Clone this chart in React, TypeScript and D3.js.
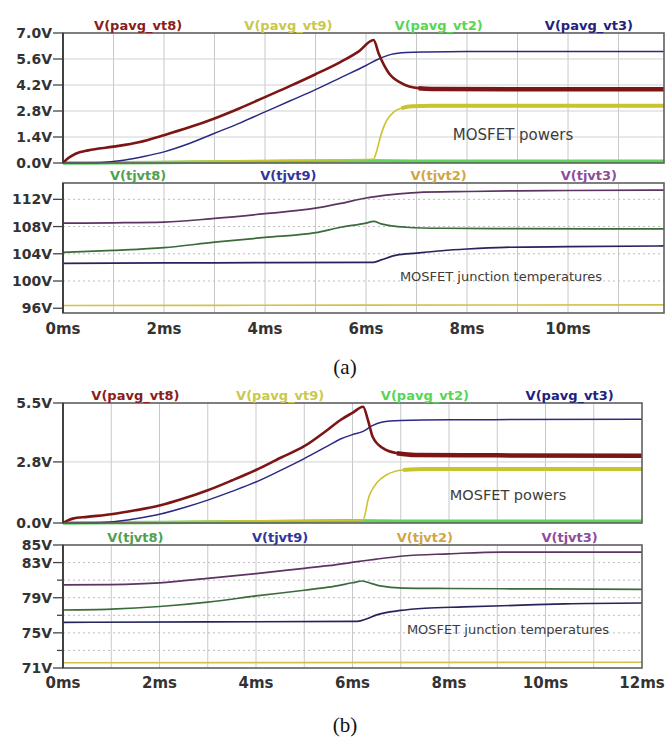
import React from 'react';
import * as d3 from 'd3';

// ---------- tick values ----------
const timeTicksA = [0, 2, 4, 6, 8, 10];
const timeTicksB = [0, 2, 4, 6, 8, 10, 12];
const powerTicksA = [0, 1.4, 2.8, 4.2, 5.6, 7.0];
const tempTicksA = [96, 100, 104, 108, 112];
const powerTicksB = [0, 2.8, 5.5];
const tempTicksB = [71, 75, 79, 83, 85];
const tempMinorTicksB = [73, 77, 81];

// ---------- panel (a) powers ----------
const aP8t = [0, 0.1, 0.25, 0.5, 1.0, 1.5, 2.0, 2.5, 3.0, 3.5, 4.0, 4.5, 5.0, 5.5, 5.85, 6.15, 6.25, 6.45, 6.7, 7.04, 7.5, 9, 11.9];
const aP8v = [0, 0.25, 0.5, 0.68, 0.88, 1.12, 1.5, 1.92, 2.4, 2.95, 3.55, 4.15, 4.78, 5.45, 6.0, 6.62, 5.9, 4.85, 4.3, 4.03, 3.98, 3.97, 3.97];
const aP9t = [0, 1, 3, 5, 6.15, 6.2, 6.3, 6.4, 6.55, 6.7, 6.9, 7.3, 8, 11.9];
const aP9v = [0, 0.04, 0.1, 0.16, 0.2, 0.55, 1.55, 2.25, 2.75, 2.95, 3.05, 3.08, 3.08, 3.08];
const aP2t = [0, 1, 2, 3, 4, 5, 6, 7, 11.9];
const aP2v = [0, 0.01, 0.03, 0.06, 0.08, 0.1, 0.12, 0.1, 0.1];
const aP3t = [0, 0.5, 0.8, 1.2, 1.6, 2.0, 2.5, 3.0, 3.5, 4.0, 4.5, 5.0, 5.5, 6.0, 6.25, 6.5, 6.8, 7.2, 8, 11.9];
const aP3v = [0, 0, 0.03, 0.15, 0.35, 0.6, 1.05, 1.6, 2.15, 2.75, 3.35, 3.95, 4.6, 5.25, 5.6, 5.85, 5.95, 5.98, 6.0, 6.0];

// ---------- panel (a) junction temperatures ----------
const aT8t = [0, 1, 2, 3, 4, 5, 5.5, 6.0, 6.15, 6.3, 6.5, 6.8, 7.5, 9, 11.9];
const aT8v = [104.2, 104.5, 104.9, 105.7, 106.4, 107.1, 107.9, 108.5, 108.75, 108.4, 108.1, 107.9, 107.75, 107.7, 107.65];
const aT9t = [0, 2, 4, 6.15, 6.3, 6.6, 7.0, 7.5, 8, 8.75, 10, 11.9];
const aT9v = [102.6, 102.65, 102.7, 102.75, 103.1, 103.8, 104.1, 104.45, 104.7, 104.95, 105.05, 105.15];
const aT2t = [0, 6, 11.9];
const aT2v = [96.4, 96.45, 96.5];
const aT3t = [0, 1, 2, 3, 4, 5, 5.5, 6, 6.5, 7, 8, 9, 10, 11.9];
const aT3v = [108.5, 108.55, 108.65, 109.2, 109.9, 110.7, 111.4, 112.2, 112.7, 113.0, 113.15, 113.25, 113.3, 113.35];

// ---------- panel (b) powers ----------
const bP8t = [0, 0.1, 0.2, 0.5, 1.0, 1.5, 2.0, 2.5, 3.0, 3.5, 4.0, 4.5, 5.0, 5.5, 5.75, 6.0, 6.22, 6.32, 6.42, 6.63, 6.92, 7.3, 9, 12];
const bP8v = [0, 0.12, 0.2, 0.28, 0.4, 0.58, 0.8, 1.12, 1.5, 1.95, 2.43, 2.98, 3.52, 4.3, 4.72, 5.05, 5.33, 4.72, 3.94, 3.43, 3.2, 3.12, 3.1, 3.08];
const bP9t = [0, 3, 6.22, 6.27, 6.32, 6.4, 6.5, 6.7, 7.05, 7.5, 12];
const bP9v = [0, 0.08, 0.14, 0.5, 1.05, 1.5, 1.83, 2.2, 2.43, 2.47, 2.48];
const bP2t = [0, 2, 4, 6, 7, 12];
const bP2v = [0, 0.02, 0.06, 0.1, 0.08, 0.08];
const bP3t = [0, 0.5, 1.0, 1.5, 2.0, 2.5, 3.0, 3.5, 4.0, 4.5, 5.0, 5.5, 5.75, 6.0, 6.22, 6.4, 6.6, 7.0, 8, 12];
const bP3v = [0, 0, 0.05, 0.2, 0.4, 0.7, 1.05, 1.45, 1.88, 2.4, 2.95, 3.55, 3.85, 4.05, 4.2, 4.45, 4.62, 4.7, 4.73, 4.75];

// ---------- panel (b) junction temperatures ----------
const bT8t = [0, 1, 2, 3, 4, 5, 5.5, 6.0, 6.2, 6.4, 6.57, 7.05, 8, 10, 12];
const bT8v = [77.6, 77.7, 78.0, 78.5, 79.2, 79.85, 80.2, 80.7, 80.9, 80.6, 80.35, 80.1, 80.05, 80.0, 79.95];
const bT9t = [0, 3, 6.1, 6.3, 6.5, 7.0, 7.5, 8.3, 9.5, 10.4, 12];
const bT9v = [76.2, 76.25, 76.3, 76.6, 77.05, 77.55, 77.8, 77.95, 78.15, 78.3, 78.4];
const bT2t = [0, 12];
const bT2v = [71.6, 71.65];
const bT3t = [0, 1, 2, 3, 4, 5, 5.5, 6.1, 6.5, 7.05, 8, 9.1, 10, 12];
const bT3v = [80.45, 80.5, 80.7, 81.2, 81.75, 82.35, 82.65, 83.1, 83.4, 83.75, 84.0, 84.2, 84.2, 84.2];

const powerLabels = ['V(pavg_vt8)', 'V(pavg_vt9)', 'V(pavg_vt2)', 'V(pavg_vt3)'];
const powerLabelColors = ['#8b1c1c', '#c9c84a', '#55d655', '#22227e'];
const tempLabels = ['V(tjvt8)', 'V(tjvt9)', 'V(tjvt2)', 'V(tjvt3)'];
const tempLabelColors = ['#4fa04f', '#33339c', '#d1a544', '#8e4c9c'];

type Series = { t: number[]; v: number[]; color: string; width: number; bandFrom?: number; bandWidth?: number };

type PaneProps = {
  x0: number; x1: number; y0: number; y1: number;
  tMax: number; yDomain: [number, number];
  yTicks: number[]; yFmt: (d: number) => string;
  minorTicks?: number[];
  gridY: number[]; dashed?: boolean;
  labels: string[]; labelColors: string[];
  series: Series[];
  note: string; noteX: number; noteY: number; noteSize: number;
  xTicks?: number[]; xLabelY?: number;
};

const TICK_FONT = 'DejaVu Sans, sans-serif';

function Pane(p: PaneProps) {
  const x = d3.scaleLinear().domain([0, p.tMax]).range([p.x0, p.x1]);
  const y = d3.scaleLinear().domain(p.yDomain).range([p.y1, p.y0]);
  const vGrid = d3.range(1, Math.floor(p.tMax) + 1).filter((t) => x(t) < p.x1 - 1);
  const qw = (p.x1 - p.x0) / 4;
  const mk = (s: Series, from = -1) => {
    const pts = s.t.map((t, i) => [t, s.v[i]] as [number, number]).filter((d) => d[0] >= from);
    return d3.line<[number, number]>().x((d) => x(d[0])).y((d) => y(d[1])).curve(d3.curveMonotoneX)(pts) || '';
  };
  const clipId = `clip${p.y0}`;
  return (
    <g>
      <defs>
        <clipPath id={clipId}>
          <rect x={p.x0} y={p.y0 - 2} width={p.x1 - p.x0} height={p.y1 - p.y0 + 4} />
        </clipPath>
      </defs>
      <rect x={p.x0} y={p.y0} width={p.x1 - p.x0} height={p.y1 - p.y0} fill="#fff" />
      {vGrid.map((t) => (
        <line key={'v' + t} x1={x(t)} x2={x(t)} y1={p.y0} y2={p.y1} stroke="#c8c8c8" strokeWidth={1} />
      ))}
      {p.gridY.map((v) => (
        <line key={'h' + v} x1={p.x0} x2={p.x1} y1={y(v)} y2={y(v)} stroke={p.dashed ? '#bdbdbd' : '#d2d2d2'}
          strokeWidth={1} strokeDasharray={p.dashed ? '2,3' : undefined} />
      ))}
      <g clipPath={`url(#${clipId})`}>
        {p.series.map((s, i) => (
          <g key={i}>
            <path d={mk(s)} fill="none" stroke={s.color} strokeWidth={s.width} strokeLinejoin="round" />
            {s.bandFrom !== undefined && (
              <path d={mk(s, s.bandFrom)} fill="none" stroke={s.color} strokeWidth={s.bandWidth} strokeLinejoin="round" />
            )}
          </g>
        ))}
      </g>
      <rect x={p.x0} y={p.y0} width={p.x1 - p.x0} height={p.y1 - p.y0} fill="none" stroke="#5f5f5f" strokeWidth={1.6} />
      <line x1={p.x0} x2={p.x0} y1={p.y0} y2={p.y1} stroke="#333" strokeWidth={1.6} />
      {p.yTicks.map((v) => (
        <g key={'yt' + v}>
          <line x1={p.x0 - 10} x2={p.x0} y1={y(v)} y2={y(v)} stroke="#444" strokeWidth={1.3} />
          <text x={p.x0 - 11} y={y(v) + 5} textAnchor="end" fontFamily={TICK_FONT} fontWeight="bold"
            fontSize={14} fill="#333">{p.yFmt(v)}</text>
        </g>
      ))}
      {(p.minorTicks || []).map((v) => (
        <line key={'mt' + v} x1={p.x0 - 6} x2={p.x0} y1={y(v)} y2={y(v)} stroke="#444" strokeWidth={1.3} />
      ))}
      {p.labels.map((l, i) => (
        <text key={l} x={p.x0 + qw * (i + 0.5)} y={p.y0 - 3} textAnchor="middle" fontFamily={TICK_FONT}
          fontWeight="bold" fontSize={13} fill={p.labelColors[i]}>{l}</text>
      ))}
      <text x={p.noteX} y={p.noteY} textAnchor="middle" fontFamily={TICK_FONT} fontSize={p.noteSize} fill="#3c3c3c">{p.note}</text>
      {(p.xTicks || []).map((t) => (
        <text key={'xt' + t} x={x(t)} y={p.xLabelY} textAnchor="middle" fontFamily={TICK_FONT} fontWeight="bold"
          fontSize={15} fill="#333">{`${t}ms`}</text>
      ))}
    </g>
  );
}

const fmt1 = (d: number) => `${d.toFixed(1)}V`;
const fmt0 = (d: number) => `${d}V`;

export default function App() {
  const red = '#7c1616';
  const yel = '#c9c42e';
  const grn = '#5fd45f';
  const blu = '#2a2a82';
  const powersA: Series[] = [
    { t: aP2t, v: aP2v, color: grn, width: 3.5 },
    { t: aP9t, v: aP9v, color: yel, width: 1.6, bandFrom: 6.6, bandWidth: 4 },
    { t: aP3t, v: aP3v, color: blu, width: 1.5 },
    { t: aP8t, v: aP8v, color: red, width: 2.6, bandFrom: 6.9, bandWidth: 4.5 },
  ];
  const tempsA: Series[] = [
    { t: aT2t, v: aT2v, color: '#d2c24a', width: 1.6 },
    { t: aT9t, v: aT9v, color: '#25255c', width: 1.7 },
    { t: aT8t, v: aT8v, color: '#3b6b3b', width: 1.7 },
    { t: aT3t, v: aT3v, color: '#5c3462', width: 1.7 },
  ];
  const powersB: Series[] = [
    { t: bP2t, v: bP2v, color: grn, width: 3.5 },
    { t: bP9t, v: bP9v, color: yel, width: 1.6, bandFrom: 6.8, bandWidth: 4 },
    { t: bP3t, v: bP3v, color: blu, width: 1.5 },
    { t: bP8t, v: bP8v, color: red, width: 2.6, bandFrom: 6.8, bandWidth: 4.5 },
  ];
  const tempsB: Series[] = [
    { t: bT2t, v: bT2v, color: '#d2c24a', width: 1.6 },
    { t: bT9t, v: bT9v, color: '#25255c', width: 1.7 },
    { t: bT8t, v: bT8v, color: '#3b6b3b', width: 1.7 },
    { t: bT3t, v: bT3v, color: '#5c3462', width: 1.7 },
  ];
  return (
    <svg width={668} height={738} style={{ position: 'absolute', left: 0, top: 0, background: '#fff' }}>
      <rect x={0} y={0} width={668} height={738} fill="#fff" />
      <Pane x0={63} x1={664} y0={33} y1={163} tMax={11.9} yDomain={[0, 7]} yTicks={powerTicksA} yFmt={fmt1}
        gridY={[1.4, 2.8, 4.2, 5.6]} labels={powerLabels} labelColors={powerLabelColors} series={powersA}
        note="MOSFET powers" noteX={513} noteY={140} noteSize={15} />
      <Pane x0={63} x1={664} y0={183} y1={313} tMax={11.9} yDomain={[95.3, 114.4]} yTicks={tempTicksA} yFmt={fmt0}
        gridY={[100, 104, 108, 112]} dashed labels={tempLabels} labelColors={tempLabelColors} series={tempsA}
        note="MOSFET junction temperatures" noteX={501} noteY={281} noteSize={13}
        xTicks={timeTicksA} xLabelY={334} />
      <text x={345} y={374} textAnchor="middle" fontFamily="Liberation Serif, serif" fontSize={21} fill="#111">(a)</text>
      <Pane x0={63} x1={642} y0={403} y1={523} tMax={12} yDomain={[0, 5.5]} yTicks={powerTicksB} yFmt={fmt1}
        gridY={[2.8]} labels={powerLabels} labelColors={powerLabelColors} series={powersB}
        note="MOSFET powers" noteX={508} noteY={500} noteSize={14.5} />
      <Pane x0={63} x1={642} y0={545} y1={668} tMax={12} yDomain={[71, 85]} yTicks={tempTicksB} yFmt={fmt0}
        minorTicks={tempMinorTicksB} gridY={[73, 75, 77, 79, 81, 83]} dashed labels={tempLabels}
        labelColors={tempLabelColors} series={tempsB}
        note="MOSFET junction temperatures" noteX={508} noteY={634} noteSize={13}
        xTicks={timeTicksB} xLabelY={688} />
      <text x={345} y={732} textAnchor="middle" fontFamily="Liberation Serif, serif" fontSize={21} fill="#111">(b)</text>
    </svg>
  );
}
